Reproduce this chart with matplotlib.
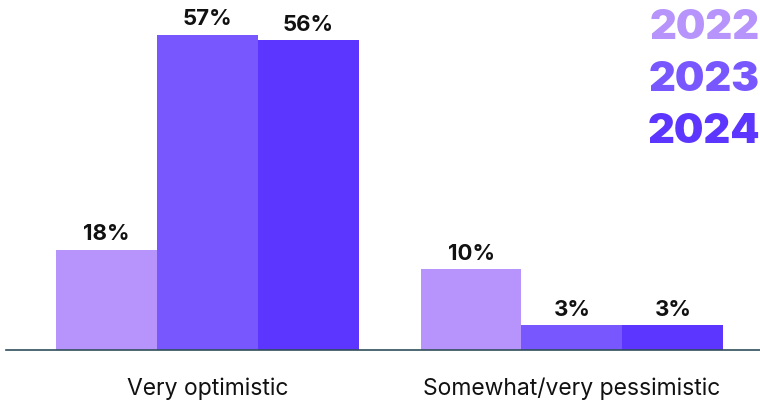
import numpy as np
import matplotlib
matplotlib.use('Agg')
import matplotlib.pyplot as plt

# Data
categories = ['Very optimistic', 'Somewhat/very pessimistic']
years = ['2022', '2023', '2024']
values = {'2022': [18, 10], '2023': [57, 3], '2024': [56, 3]}
# bar heights as drawn in the picture (the source is not strictly to scale)
heights = {'2022': [18.1, 14.6], '2023': [57, 4.5], '2024': [56, 4.5]}
colors = {'2022': '#b793fc', '2023': '#7857ff', '2024': '#5c35ff'}

plt.rcParams['font.family'] = ['Inter', 'DejaVu Sans']

fig = plt.figure(figsize=(7.6, 4.05), dpi=100)
ax = fig.add_axes([6 / 760, 55 / 405, 754 / 760, 350 / 405])

x = np.arange(len(categories))
width = 0.277

for i, yr in enumerate(years):
    pos = x + (i - 1) * width
    ax.bar(pos, heights[yr], width=width, color=colors[yr], linewidth=0)
    for p, h, v in zip(pos, heights[yr], values[yr]):
        ax.annotate(f'{v}%', (p, h), xytext=(0, 4), textcoords='offset points',
                    ha='center', va='bottom', fontsize=16, fontweight='bold',
                    color='#111111')

ax.set_xlim(-0.553, 1.516)
ax.set_ylim(0, 63.3)

for s in ['top', 'right', 'left']:
    ax.spines[s].set_visible(False)
ax.spines['bottom'].set_color('#2f4f5a')
ax.spines['bottom'].set_linewidth(1.2)
ax.set_yticks([])
ax.set_xticks(x)
ax.set_xticklabels(categories, fontsize=16.5, color='#111111')
ax.tick_params(axis='x', length=0, pad=20)

# Year legend in the top right corner
for yr, ypix in zip(years, [28, 80, 132]):
    fig.text(1.0, 1 - ypix / 405, yr, ha='right', va='center', fontsize=30,
             fontweight='black', color=colors[yr])

fig.savefig('out.png', dpi=100)
